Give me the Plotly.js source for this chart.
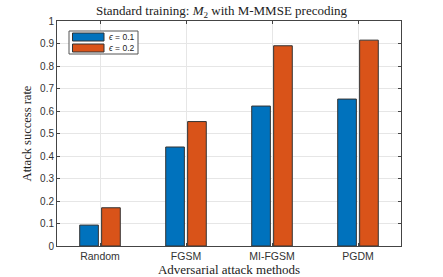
<!DOCTYPE html>
<html><head><meta charset="utf-8">
<script src="https://cdn.plot.ly/plotly-3.0.1.min.js"></script>
<style>html,body{margin:0;padding:0;background:#fff}#c{width:443px;height:277px}</style>
</head><body><div id="c"></div>
<script>
const categories = ["Random", "FGSM", "MI-FGSM", "PGDM"];
const eps01 = [0.093, 0.44, 0.622, 0.653];
const eps02 = [0.17, 0.553, 0.89, 0.915];
const seriesNames = ["<i>ϵ</i> = 0.1", "<i>ϵ</i> = 0.2"];
const yTicks = [0, 0.1, 0.2, 0.3, 0.4, 0.5, 0.6, 0.7, 0.8, 0.9, 1];
const colors = ["#0072BD", "#D95319"];

const serif = "Liberation Serif, DejaVu Serif, serif";
const sans = "Liberation Sans, Arial, sans-serif";
const W = 443, H = 277, L = 57, R = 42, T = 21, B = 31;
const pw = W - L - R, ph = H - T - B;
const px = x => (x - L) / pw;
const py = y => 1 - (y - T) / ph;

const traces = [
  {type: "bar", x: categories, y: eps01, name: seriesNames[0],
   marker: {color: colors[0], line: {color: "#333", width: 1}}},
  {type: "bar", x: categories, y: eps02, name: seriesNames[1],
   marker: {color: colors[1], line: {color: "#333", width: 1}}}
];

// legend drawn as shapes + annotations (compact MATLAB-style)
const shapes = [
  {type: "rect", xref: "paper", yref: "paper", x0: px(69), x1: px(138), y0: py(54), y1: py(31),
   fillcolor: "#fff", line: {color: "#555", width: 1}, layer: "above"}
];
const annotations = [];
seriesNames.forEach((n, i) => {
  const top = 33 + i * 11;
  shapes.push({type: "rect", xref: "paper", yref: "paper", x0: px(72.5), x1: px(104), y0: py(top + 8), y1: py(top),
    fillcolor: colors[i], line: {color: "#333", width: 1}, layer: "above"});
  annotations.push({xref: "paper", yref: "paper", x: px(107), y: py(top + 4), xanchor: "left", yanchor: "middle",
    text: n, showarrow: false, font: {family: sans, size: 8.5, color: "#222"}});
});

const layout = {
  width: W, height: H,
  margin: {l: L, r: R, t: T, b: B},
  paper_bgcolor: "#fff", plot_bgcolor: "#fff",
  barmode: "group", bargap: 0.49, bargroupgap: 0.15,
  showlegend: false,
  title: {text: "Standard training: <i>M</i><sub>2</sub> with M-MMSE precoding",
          font: {family: serif, size: 13, color: "#222"}, x: 0.5, xanchor: "center",
          y: 0.978, yanchor: "top"},
  xaxis: {title: {text: "Adversarial attack methods", font: {family: serif, size: 13, color: "#222"}, standoff: 1},
          tickfont: {family: sans, size: 10.5, color: "#333"},
          showline: true, mirror: "ticks", linecolor: "#444", linewidth: 1,
          showgrid: true, gridcolor: "#e6e6e6", ticks: "inside", ticklen: 3, tickcolor: "#444",
          range: [-0.5, 3.5], fixedrange: true},
  yaxis: {title: {text: "Attack success rate", font: {family: serif, size: 12.5, color: "#222"}, standoff: 5},
          tickfont: {family: sans, size: 10, color: "#333"},
          range: [0, 1], tickvals: yTicks, ticktext: yTicks.map(v => String(v)),
          showline: true, mirror: "ticks", linecolor: "#444", linewidth: 1,
          showgrid: true, gridcolor: "#e6e6e6", ticks: "inside", ticklen: 3, tickcolor: "#444",
          zeroline: false},
  shapes: shapes,
  annotations: annotations
};
Plotly.newPlot("c", traces, layout, {displayModeBar: false, staticPlot: true});
</script></body></html>
